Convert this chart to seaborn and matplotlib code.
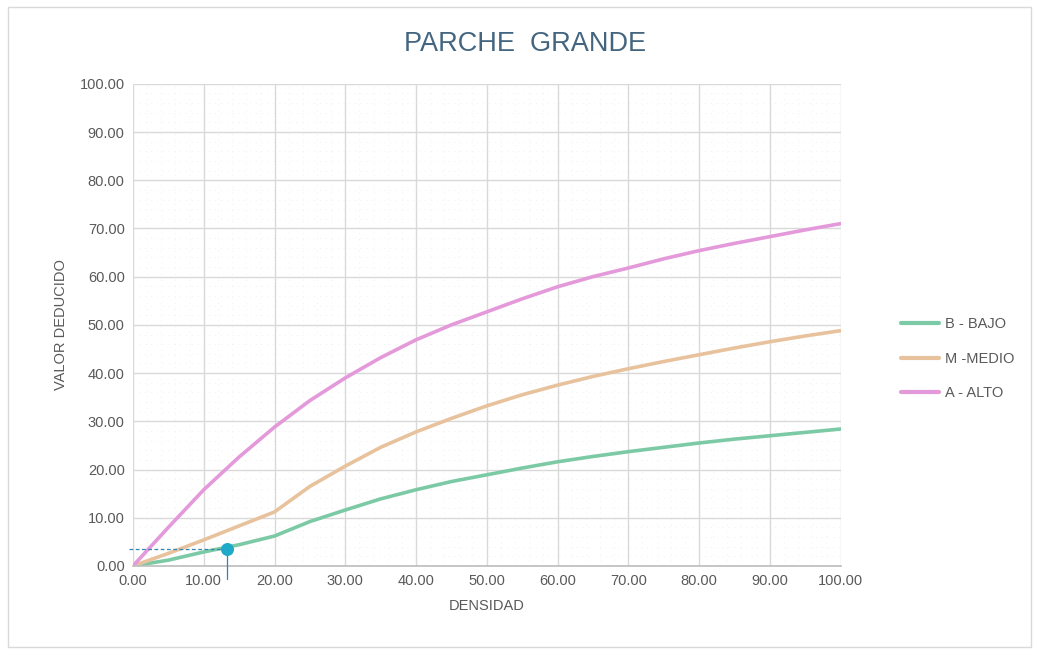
import matplotlib
matplotlib.use("Agg")
import matplotlib.pyplot as plt
import seaborn as sns
import pandas as pd
from matplotlib.ticker import MultipleLocator, FormatStrFormatter

# Deduct value curves for large patches, by severity level
densidad = [0, 5, 10, 15, 20, 25, 30, 35, 40, 45, 50, 55, 60, 65, 70, 75, 80, 85, 90, 95, 100]
bajo = [0.0, 1.2, 2.9, 4.4, 6.2, 9.2, 11.6, 13.9, 15.8, 17.5, 18.9, 20.3, 21.6, 22.7, 23.7, 24.6, 25.5, 26.3, 27.0, 27.7, 28.4]
medio = [0.0, 2.6, 5.4, 8.3, 11.2, 16.5, 20.7, 24.6, 27.8, 30.6, 33.2, 35.5, 37.5, 39.3, 40.9, 42.4, 43.8, 45.2, 46.5, 47.7, 48.8]
alto = [0.0, 8.0, 15.8, 22.6, 28.8, 34.3, 39.0, 43.2, 46.9, 50.0, 52.7, 55.4, 57.9, 60.0, 61.8, 63.7, 65.4, 66.9, 68.3, 69.7, 71.0]
series_names = ["B - BAJO", "M -MEDIO", "A - ALTO"]
series_colors = ["#7ccaa5", "#e8c29c", "#e499da"]

# Example reading on the low-severity curve
punto_x = 13.3
punto_y = 3.6

df = pd.DataFrame({
    "DENSIDAD": densidad * 3,
    "VALOR": bajo + medio + alto,
    "serie": sum([[n] * len(densidad) for n in series_names], []),
})

sns.set_theme(style="white")
plt.rcParams["font.family"] = ["Liberation Sans", "DejaVu Sans"]

fig = plt.figure(figsize=(10.39, 6.55), dpi=100)
ax = fig.add_axes([0.128, 0.136, 0.681, 0.736])

sns.lineplot(data=df, x="DENSIDAD", y="VALOR", hue="serie", hue_order=series_names,
             palette=series_colors, linewidth=2.6, ax=ax, legend=True, sort=True)

# Reading guides for the example point
ax.plot([-0.5, punto_x], [punto_y, punto_y], color="#2f86b0", lw=0.9, ls=(0, (3, 2)), zorder=4,
        clip_on=False)
ax.plot([punto_x, punto_x], [punto_y, -2.8], color="#2f86b0", lw=0.9, zorder=4, clip_on=False)
ax.scatter([punto_x], [punto_y], s=70, color="#1ea9c8", zorder=5)

ax.set_xlim(0, 100)
ax.set_ylim(0, 100)
ax.xaxis.set_major_locator(MultipleLocator(10))
ax.yaxis.set_major_locator(MultipleLocator(10))
ax.xaxis.set_minor_locator(MultipleLocator(2))
ax.yaxis.set_minor_locator(MultipleLocator(2))
ax.xaxis.set_major_formatter(FormatStrFormatter("%.2f"))
ax.yaxis.set_major_formatter(FormatStrFormatter("%.2f"))
ax.grid(True, which="major", color="#d9d9d9", lw=1.0)
ax.grid(True, which="minor", color="#ececec", lw=0.6, ls=(0, (1, 6)))
ax.set_axisbelow(True)
for s in ["top", "right", "left"]:
    ax.spines[s].set_visible(False)
ax.spines["bottom"].set_color("#bfbfbf")
ax.tick_params(axis="both", which="both", length=0, labelsize=10.5, labelcolor="#595959", pad=6)

ax.set_xlabel("DENSIDAD", fontsize=10.5, color="#595959", labelpad=8)
ax.set_ylabel("VALOR DEDUCIDO", fontsize=10.5, color="#595959", labelpad=8)
fig.suptitle("PARCHE  GRANDE", x=0.505, y=0.933, va="center", fontsize=19.5,
             color="#44657f")

leg = ax.legend(loc="center left", bbox_to_anchor=(1.067, 0.43), frameon=False,
                fontsize=10.5, handlelength=2.6, labelspacing=1.4, handletextpad=0.4)
for t in leg.get_texts():
    t.set_color("#595959")
for h in leg.get_lines():
    h.set_linewidth(3)

# Thin outer frame around the chart area
fig.patches.append(plt.Rectangle((0.008, 0.012), 0.984, 0.978, transform=fig.transFigure,
                                 fill=False, ec="#d9d9d9", lw=1))

fig.savefig("out.png", dpi=100)
